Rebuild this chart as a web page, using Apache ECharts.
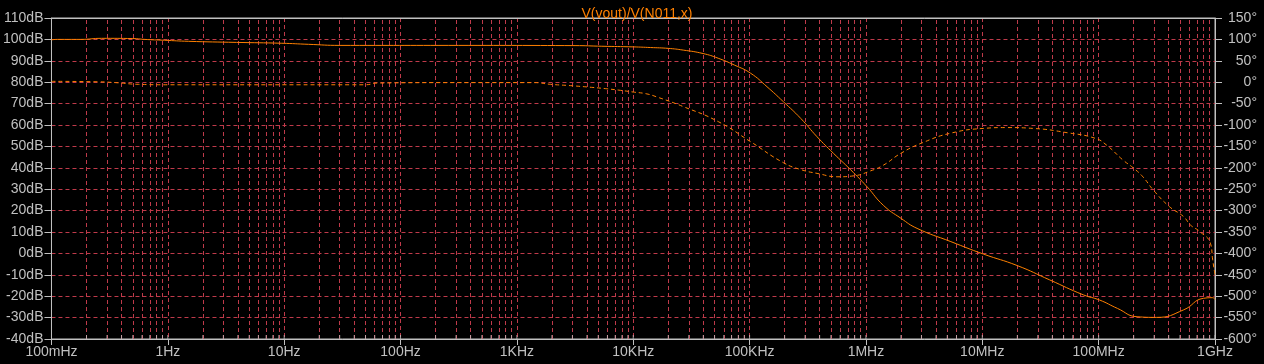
<!DOCTYPE html>
<html>
<head>
<meta charset="utf-8">
<script src="https://cdn.jsdelivr.net/npm/echarts@6/dist/echarts.min.js"></script>
<style>
html,body{margin:0;padding:0;background:#000;}
#chart{width:1264px;height:364px;}
</style>
</head>
<body>
<div id="chart"></div>
<script>
// ---- data (frequency in Hz) ----
const titleText = 'V(vout)/V(N011,x)';
const xTickLabels = ['100mHz','1Hz','10Hz','100Hz','1KHz','10KHz','100KHz','1MHz','10MHz','100MHz','1GHz'];
const minorMultipliers = [2,3,4,5,6,7,8,9];

const magFreq = [0.1,0.112,0.178,0.269,0.5,0.631,0.933,1.51,3.89,9.55,16.2,30.2,316,3162,5370,10000,14100,20000,26900,39800,53700,74100,102000,141000,195000,275000,380000,525000,741000,1020000,1410000,2000000,2750000,5370000,10200000,20000000,38000000,74100000,102000000,145000000,214000000,316000000,537000000,794000000,955000000,1000000000];
const magDb = [99.8,100.0,100.0,100.5,100.4,100.0,99.6,99.1,98.6,98.2,97.7,97.2,97.2,97.1,96.8,96.5,96.2,95.8,95.0,93.4,91.2,88.0,84.2,77.9,70.9,63.1,54.5,46.8,39.0,31.2,22.5,16.4,11.7,5.5,-0.3,-5.7,-12.4,-19.4,-21.8,-25.7,-29.6,-29.9,-26.4,-21.0,-20.7,-21.5];

const phaseFreq = [0.1,0.251,0.355,0.562,1,10,50,63,316,1410,1950,2880,4370,5750,7760,10000,12900,15800,26900,53700,102000,195000,282000,380000,575000,776000,1100000,1410000,2000000,3090000,5370000,10200000,16200000,27500000,53700000,93300000,117000000,162000000,198000000,240000000,295000000,407000000,537000000,617000000,741000000,912000000,955000000,1000000000];
const phaseDeg = [2,1,-1,-5,-6,-6,-6,-2,-1,-1,-5,-8,-12,-15,-19,-23,-27,-34,-57,-92,-139,-188,-205,-213,-221,-219,-207,-194,-166,-141,-119,-108,-106,-108,-118,-131,-147,-182,-200,-221,-252,-291,-314,-334,-349,-376,-415,-450];

// ---- styles ----
const ORANGE = '#ff8000';
const GRAY = '#c0c0c0';
const GRID = '#bf3a4a';
const FONT = 'Liberation Sans';

const magData = magFreq.map((f,i)=>[f,magDb[i]]);
const phaseData = phaseFreq.map((f,i)=>[f,phaseDeg[i]]);

const minorFreqs = [];
for (let d=-1; d<9; d++) {
  for (const m of minorMultipliers) minorFreqs.push(m*Math.pow(10,d));
}
const decadeFreqs = [];
for (let d=-1; d<=9; d++) decadeFreqs.push(Math.pow(10,d));

const chart = echarts.init(document.getElementById('chart'));
chart.setOption({
  backgroundColor: '#000000',
  animation: false,
  title: {
    text: titleText,
    left: 632, top: 2,
    textAlign: 'center',
    textStyle: {color: ORANGE, fontFamily: FONT, fontSize: 14, fontWeight: 'normal'}
  },
  grid: {left: 50, right: 49, top: 18, bottom: 25, show: true, borderColor: GRAY, borderWidth: 1, backgroundColor: 'transparent'},
  xAxis: [
    {
      type: 'log', logBase: 10, min: 0.1, max: 1e9, interval: 1, position: 'bottom',
      axisLine: {show: true, onZero: false, lineStyle: {color: GRAY, width: 1}},
      axisTick: {show: true, length: 6, lineStyle: {color: GRAY}},
      axisLabel: {
        color: GRAY, fontFamily: FONT, fontSize: 14, margin: 6,
        formatter: v => xTickLabels[Math.round(Math.log10(v)) + 1] || ''
      },
      splitLine: {show: true, showMinLine: false, showMaxLine: false, lineStyle: {color: GRID, type: [4,3], width: 1}},
      minorTick: {show: false}
    },
    {
      type: 'log', logBase: 10, min: 0.1, max: 1e9, interval: 1, position: 'top',
      axisLine: {show: true, onZero: false, lineStyle: {color: GRAY, width: 1}},
      axisTick: {show: false}, axisLabel: {show: false}, splitLine: {show: false}
    }
  ],
  yAxis: [
    {
      type: 'value', min: -40, max: 110, interval: 10, position: 'left',
      axisLine: {show: true, onZero: false, lineStyle: {color: GRAY}},
      axisTick: {show: true, length: 7, lineStyle: {color: GRAY}},
      axisLabel: {color: GRAY, fontFamily: FONT, fontSize: 14, margin: 8, formatter: v => v + 'dB'},
      splitLine: {show: true, showMinLine: false, showMaxLine: false, lineStyle: {color: GRID, type: [4,3], width: 1}}
    },
    {
      type: 'value', min: -600, max: 150, interval: 50, position: 'right',
      axisLine: {show: true, onZero: false, lineStyle: {color: GRAY}},
      axisTick: {show: true, length: 7, lineStyle: {color: GRAY}},
      axisLabel: {color: GRAY, fontFamily: FONT, fontSize: 14, margin: 42, align: 'right', formatter: v => v + '°'},
      splitLine: {show: false}
    }
  ],
  series: [
    {
      type: 'line', name: 'mag', yAxisIndex: 0, data: magData,
      showSymbol: false, symbol: 'none', smooth: 0.5,
      lineStyle: {color: ORANGE, width: 1}, z: 5,
      markLine: {
        silent: true, symbol: ['none','none'], label: {show: false},
        lineStyle: {color: GRID, type: [4,3], width: 1},
        emphasis: {disabled: true},
        data: minorFreqs.map(f => ({xAxis: f}))
      }
    },
    {
      type: 'line', name: 'phase', yAxisIndex: 1, data: phaseData,
      showSymbol: false, symbol: 'none', smooth: 0.5,
      lineStyle: {color: ORANGE, width: 1, type: [4,3]}, z: 5
    },
    {
      type: 'scatter', yAxisIndex: 0, silent: true,
      data: minorFreqs.concat(decadeFreqs).map(f => [f, -40]),
      symbol: 'rect', symbolSize: [1,4], symbolOffset: [0,-2],
      itemStyle: {color: GRAY}, z: 6
    }
  ]
});
</script>
</body>
</html>
